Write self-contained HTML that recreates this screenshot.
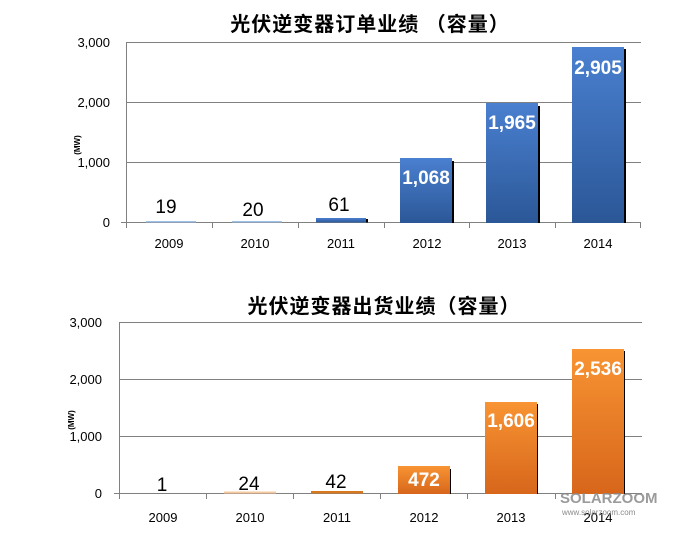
<!DOCTYPE html>
<html><head><meta charset="utf-8"><style>
html,body{margin:0;padding:0;background:#fff;}
svg{display:block;}
text{font-family:"Liberation Sans","Noto Sans CJK SC",sans-serif;}
</style></head><body>
<svg width="692" height="539" viewBox="0 0 692 539" xmlns="http://www.w3.org/2000/svg">
<defs>
<linearGradient id="gb" x1="0" y1="0" x2="0" y2="1"><stop offset="0" stop-color="#4a80d0"/><stop offset="1" stop-color="#2b5797"/></linearGradient>
<linearGradient id="go" x1="0" y1="0" x2="0" y2="1"><stop offset="0" stop-color="#f89433"/><stop offset="1" stop-color="#d7661b"/></linearGradient>
</defs>
<!-- Chart 1 -->
<text x="370" y="31" font-size="20" font-weight="bold" text-anchor="middle" font-family="'Noto Sans CJK SC',sans-serif" letter-spacing="1">光伏逆变器订单业绩 （容量）</text>
<g stroke="#808080" stroke-width="1">
<line x1="126" y1="42.5" x2="641" y2="42.5"/><line x1="126" y1="102.5" x2="641" y2="102.5"/><line x1="126" y1="162.5" x2="641" y2="162.5"/><line x1="121" y1="222.5" x2="641" y2="222.5"/>
<line x1="126.5" y1="42" x2="126.5" y2="228"/>
<line x1="212.5" y1="222" x2="212.5" y2="228"/><line x1="298.5" y1="222" x2="298.5" y2="228"/><line x1="384.5" y1="222" x2="384.5" y2="228"/><line x1="469.5" y1="222" x2="469.5" y2="228"/><line x1="555.5" y1="222" x2="555.5" y2="228"/><line x1="640.5" y1="222" x2="640.5" y2="228"/>
</g>
<g font-size="13" text-anchor="end" fill="#000"><text x="110" y="47">3,000</text><text x="110" y="107">2,000</text><text x="110" y="167">1,000</text><text x="110" y="227">0</text></g>
<text transform="translate(80,145) rotate(-90)" font-size="8" font-weight="bold" text-anchor="middle">(MW)</text>
<g font-size="13" text-anchor="middle"><text x="169" y="248">2009</text><text x="255" y="248">2010</text><text x="341" y="248">2011</text><text x="427" y="248">2012</text><text x="512" y="248">2013</text><text x="598" y="248">2014</text></g>
<g>
<rect x="146" y="221" width="50" height="1.5" fill="#9ec1e8"/>
<rect x="232" y="221" width="50" height="1.5" fill="#9ec1e8"/>
<rect x="318" y="219" width="50" height="3.5" fill="#000"/><rect x="316" y="218" width="50" height="4.5" fill="url(#gb)"/>
<rect x="404" y="161" width="50" height="62" fill="#000"/><rect x="400" y="158" width="52" height="65" fill="url(#gb)"/>
<rect x="490" y="106" width="50" height="117" fill="#000"/><rect x="486" y="103" width="52" height="120" fill="url(#gb)"/>
<rect x="576" y="49" width="50" height="174" fill="#000"/><rect x="572" y="47" width="52" height="176" fill="url(#gb)"/>
</g>
<g font-size="19" text-anchor="middle"><text x="166" y="213">19</text><text x="253" y="216">20</text><text x="339" y="211">61</text></g>
<g font-size="19" font-weight="bold" fill="#fff" text-anchor="middle"><text x="426" y="184">1,068</text><text x="512" y="129">1,965</text><text x="598" y="74">2,905</text></g>
<!-- Chart 2 -->
<text x="384" y="313" font-size="20" font-weight="bold" text-anchor="middle" font-family="'Noto Sans CJK SC',sans-serif" letter-spacing="1">光伏逆变器出货业绩（容量）</text>
<g stroke="#808080" stroke-width="1">
<line x1="119" y1="322.5" x2="642" y2="322.5"/><line x1="119" y1="379.5" x2="642" y2="379.5"/><line x1="119" y1="436.5" x2="642" y2="436.5"/><line x1="114" y1="493.5" x2="642" y2="493.5"/>
<line x1="119.5" y1="322" x2="119.5" y2="499"/>
<line x1="206.5" y1="493" x2="206.5" y2="499"/><line x1="293.5" y1="493" x2="293.5" y2="499"/><line x1="380.5" y1="493" x2="380.5" y2="499"/><line x1="467.5" y1="493" x2="467.5" y2="499"/><line x1="555.5" y1="493" x2="555.5" y2="499"/>
</g>
<g font-size="13" text-anchor="end"><text x="102" y="327">3,000</text><text x="102" y="384">2,000</text><text x="102" y="441">1,000</text><text x="102" y="498">0</text></g>
<text transform="translate(74,420) rotate(-90)" font-size="8" font-weight="bold" text-anchor="middle">(MW)</text>
<g font-size="13" text-anchor="middle"><text x="163" y="522">2009</text><text x="250" y="522">2010</text><text x="337" y="522">2011</text><text x="424" y="522">2012</text><text x="511" y="522">2013</text><text x="598" y="522">2014</text></g>
<g>
<rect x="224" y="491.5" width="52" height="2" fill="#f6c9a0"/>
<rect x="311" y="491" width="52" height="2.5" fill="#d7781f"/>
<rect x="401" y="469" width="50" height="25" fill="#000"/><rect x="398" y="466" width="52" height="28" fill="url(#go)"/>
<rect x="488" y="404" width="50" height="90" fill="#000"/><rect x="485" y="402" width="52" height="92" fill="url(#go)"/>
<rect x="575" y="351" width="50" height="143" fill="#000"/><rect x="572" y="349" width="52" height="145" fill="url(#go)"/>
</g>
<g font-size="19" text-anchor="middle"><text x="162" y="491">1</text><text x="249" y="490">24</text><text x="336" y="488">42</text></g>
<g font-size="19" font-weight="bold" fill="#fff" text-anchor="middle"><text x="424" y="486">472</text><text x="511" y="427">1,606</text><text x="598" y="375">2,536</text></g>
<text x="560" y="503" font-size="15" font-weight="bold" fill="#8a8a8a" opacity="0.85">SOLARZOOM</text>
<text x="562" y="515" font-size="8" fill="#8a8a8a">www.solarzoom.com</text>
</svg>
</body></html>
